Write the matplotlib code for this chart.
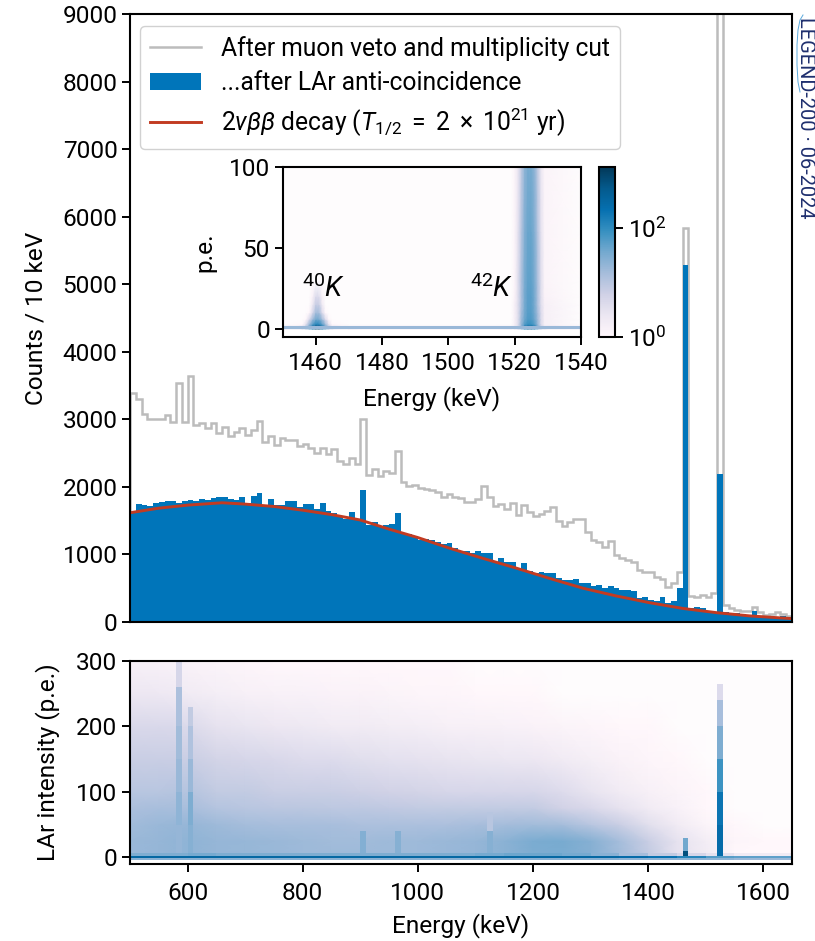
import matplotlib
matplotlib.use('Agg')
import matplotlib.pyplot as plt
from matplotlib.colors import LogNorm
from matplotlib.lines import Line2D
from matplotlib.patches import Patch
from matplotlib.ticker import LogFormatterMathtext, NullLocator
import numpy as np

plt.rcParams['font.family'] = ['Roboto', 'DejaVu Sans']
plt.rcParams['mathtext.fontset'] = 'custom'
plt.rcParams['mathtext.rm'] = 'Roboto'
plt.rcParams['mathtext.it'] = 'Roboto:italic'
plt.rcParams['mathtext.bf'] = 'Roboto:bold'
plt.rcParams['font.size'] = 17.6

# spectrum, 10 keV bins from 500 to 1650 keV
bin_edges = list(range(500, 1660, 10))
counts_muon = [3390, 3300, 3085, 3010, 3010, 3010, 3060, 2960, 3540, 2960, 3640, 2920, 2950, 2865, 2940,
               2805, 2890, 2750, 2815, 2865, 2765, 2840, 2980, 2667, 2750, 2620, 2730, 2690, 2690, 2600,
               2640, 2570, 2505, 2570, 2485, 2560, 2380, 2345, 2435, 2335, 3000, 2175, 2270, 2160, 2240,
               2210, 2525, 2075, 2010, 2035, 1990, 1967, 1950, 1930, 1845, 1900, 1855, 1830, 1780, 1780,
               1815, 2020, 1855, 1715, 1745, 1670, 1755, 1590, 1730, 1630, 1570, 1605, 1645, 1695, 1500,
               1425, 1485, 1525, 1525, 1325, 1215, 1190, 1115, 1200, 990, 950, 915, 890, 770, 735,
               745, 660, 630, 525, 570, 745, 5830, 385, 375, 400, 375, 435, 14000, 250, 200,
               178, 168, 168, 225, 150, 105, 118, 150, 118, 90]
counts_lar = [1620, 1745, 1730, 1715, 1765, 1770, 1795, 1795, 1755, 1795, 1800, 1795, 1815, 1805, 1835,
              1845, 1845, 1825, 1800, 1845, 1755, 1860, 1905, 1735, 1815, 1735, 1735, 1790, 1790, 1695,
              1745, 1750, 1680, 1765, 1645, 1617, 1570, 1530, 1630, 1530, 1950, 1435, 1485, 1420, 1435,
              1450, 1607, 1320, 1300, 1275, 1220, 1235, 1215, 1190, 1155, 1175, 1090, 1055, 1055, 1025,
              1055, 1025, 1025, 890, 940, 890, 890, 780, 870, 760, 730, 745, 730, 730, 645,
              620, 620, 635, 580, 570, 540, 545, 510, 530, 500, 480, 470, 460, 350, 375,
              325, 315, 365, 285, 315, 500, 5280, 200, 217, 200, 168, 150, 2190, 150, 118,
              128, 118, 105, 170, 90, 80, 70, 80, 90, 70]
curve_energy = [500, 550, 600, 660, 700, 750, 800, 850, 900, 950, 1000, 1056, 1114, 1172, 1229, 1287, 1345,
                1403, 1461, 1519, 1577, 1650]
curve_counts = [1617, 1685, 1730, 1765, 1745, 1710, 1655, 1590, 1510, 1375, 1250, 1090, 940, 795, 645, 500,
                385, 285, 200, 138, 90, 50]

# LAr intensity map, background read on a coarse grid
lar_energy = [500, 550, 600, 650, 700, 750, 800, 850, 900, 950, 1000, 1050, 1100, 1150, 1200, 1250, 1300,
              1350, 1400, 1450, 1500, 1550, 1600, 1650]
lar_pe = [5, 25, 50, 75, 100, 150, 200, 250, 300]
lar_map = [
    [18, 20, 22, 20, 19, 18, 17, 17, 17, 17, 17, 18, 20, 24, 30, 32, 26, 16, 8, 3, 2, 1, 1, 1],
    [18, 20, 22, 20, 19, 18, 17, 16, 16, 17, 17, 18, 20, 24, 32, 34, 26, 15, 7, 3, 1.8, 1.1, 1, 1],
    [16, 18, 20, 17, 15, 14, 14, 14, 13, 13, 13, 13, 14, 15, 16, 15, 10, 7, 3.5, 2, 1.2, 1, 0.9, 0.9],
    [13, 14, 14, 11, 10, 9.5, 9.5, 9, 9, 8.5, 8, 8, 8, 8, 8, 6, 4.5, 3, 2, 1.4, 1, 0.9, 0.9, 0.9],
    [10, 10, 11, 8, 8, 7, 7, 7, 6.5, 6, 5.5, 5, 5, 5, 5, 4, 2.8, 2, 1.5, 1.2, 1, 0.9, 0.9, 0.9],
    [7, 7, 7, 5.5, 5, 4.5, 4, 4, 3.5, 3.2, 3, 2.8, 2.6, 2.5, 2.4, 2, 1.6, 1.3, 1.1, 1, 0.9, 0.9, 0.9, 0.9],
    [4.5, 4.5, 4.2, 3, 2.7, 2.4, 2.2, 2, 2, 1.8, 1.7, 1.5, 1.5, 1.4, 1.3, 1.2, 1.1, 1, 1, 0.9, 0.9, 0.9, 0.9, 0.9],
    [2.4, 2.3, 2, 1.7, 1.5, 1.4, 1.4, 1.3, 1.3, 1.2, 1.1, 1.1, 1, 1, 1, 0.9, 0.9, 0.9, 0.9, 0.9, 0.9, 0.9, 0.9, 0.9],
    [1.5, 1.4, 1.3, 1.2, 1.1, 1, 1, 1, 1, 1, 1, 1, 0.9, 0.9, 0.9, 0.9, 0.9, 0.9, 0.9, 0.9, 0.9, 0.9, 0.9, 0.9],
]
# band at 0 p.e., per 50 keV step
band_pe = [-3.5, -1.5, 2.5, 7]
band_map = [
    [25, 25, 25, 25, 25, 25, 25, 25, 25, 25, 25, 25, 25, 25, 25, 25, 25, 22, 22, 22, 22, 18, 18],
    [300, 300, 300, 300, 300, 300, 300, 300, 300, 300, 300, 300, 300, 300, 300, 300, 300, 260, 200, 120, 55, 50, 50],
    [30, 30, 35, 30, 30, 30, 30, 30, 30, 30, 30, 30, 35, 40, 40, 35, 25, 15, 8, 5, 3, 2, 2],
]
# lines seen as narrow columns: energy bin edges, p.e. edges, counts
line_columns = [
    (580, 590, [7, 50, 100, 150, 200, 260, 300], [20, 22, 18, 16, 13, 5]),
    (600, 610, [7, 50, 100, 150, 200, 230], [26, 30, 18, 12, 8]),
    (900, 910, [7, 40], [28]),
    (960, 970, [7, 40], [26]),
    (1120, 1130, [7, 40, 70], [26, 10]),
    (1460, 1470, [2.5, 10, 30], [700, 38]),
    (1520, 1530, [2.5, 50, 100, 150, 200, 240, 265], [260, 190, 80, 30, 14, 4]),
]

# inset map around the potassium lines
inset_energy = [1450, 1456, 1457, 1458, 1459, 1460, 1461, 1462, 1463, 1464, 1465, 1470, 1519, 1520, 1521, 1522,
                1523, 1524, 1525, 1526, 1527, 1528, 1529, 1540]
inset_pe = [0, 3, 6, 10, 15, 20, 30, 60, 100]
inset_map = [
    [2, 4, 10, 40, 250, 800, 800, 250, 40, 10, 4, 2, 2, 3, 5, 20, 180, 400, 400, 220, 30, 8, 3, 2],
    [0.9, 1, 3, 15, 50, 110, 110, 50, 15, 3, 1, 0.9, 0.9, 1.5, 3.5, 18, 55, 85, 85, 55, 18, 4, 1.5, 0.9],
    [0.9, 0.9, 1, 4, 15, 35, 35, 15, 4, 1, 0.9, 0.9, 0.9, 1.5, 3.5, 16, 40, 60, 60, 40, 16, 4, 1.5, 0.9],
    [0.9, 0.9, 0.9, 1, 4, 15, 15, 4, 1, 0.9, 0.9, 0.9, 0.9, 1.5, 3.5, 14, 36, 55, 55, 36, 14, 4, 1.5, 0.9],
    [0.9, 0.9, 0.9, 0.9, 2, 7, 7, 2, 0.9, 0.9, 0.9, 0.9, 0.9, 1.5, 3.5, 12, 34, 52, 52, 34, 12, 3.5, 1.5, 0.9],
    [0.9, 0.9, 0.9, 0.9, 1.3, 4, 4, 1.3, 0.9, 0.9, 0.9, 0.9, 0.9, 1.3, 3.5, 12, 34, 52, 52, 34, 12, 3.5, 1.3, 0.9],
    [0.9, 0.9, 0.9, 0.9, 0.9, 0.9, 0.9, 0.9, 0.9, 0.9, 0.9, 0.9, 0.9, 1.2, 3.5, 12, 32, 48, 48, 32, 12, 3.5, 1.2, 0.9],
    [0.9, 0.9, 0.9, 0.9, 0.9, 0.9, 0.9, 0.9, 0.9, 0.9, 0.9, 0.9, 0.9, 1.2, 3, 10, 28, 42, 42, 28, 10, 3, 1.2, 0.9],
    [0.9, 0.9, 0.9, 0.9, 0.9, 0.9, 0.9, 0.9, 0.9, 0.9, 0.9, 0.9, 0.9, 1.2, 2.5, 8, 22, 34, 34, 22, 8, 2.5, 1.2, 0.9],
]
inset_band_pe = [-0.2, 1.8]
inset_band = [[18]]

color_blue = '#0075ba'
color_gray = '#bcbcbc'
color_red = '#c23b22'
color_navy = '#1f2f6e'
W, H = 815, 941


def box(left, top, right, bottom):
    # pixel box to figure fractions
    return [left / W, 1 - bottom / H, (right - left) / W, (bottom - top) / H]


cmap = plt.get_cmap('PuBu').copy()
cmap.set_under('#fefcfd')
norm = LogNorm(vmin=1, vmax=1300)

fig = plt.figure(figsize=(W / 100, H / 100), dpi=100)
ax = fig.add_axes(box(130, 14, 792, 622))
ax_map = fig.add_axes(box(130, 661, 792, 864))
ax_in = fig.add_axes(box(282.5, 167, 581, 337))
cax = fig.add_axes(box(599, 167, 615, 337))

# main spectrum
ax.stairs(counts_muon, bin_edges, color=color_gray, linewidth=1.8)
ax.stairs(counts_lar, bin_edges, color=color_blue, fill=True, linewidth=0)
ax.plot(curve_energy, curve_counts, color=color_red, linewidth=2.1)
ax.set_xlim(500, 1650)
ax.set_ylim(0, 9000)
ax.set_xticks([])
ax.set_yticks(range(0, 10000, 1000))
ax.set_ylabel('Counts / 10 keV', labelpad=11)

handles = [
    Line2D([], [], color=color_gray, linewidth=1.8),
    Patch(facecolor=color_blue, edgecolor='none'),
    Line2D([], [], color=color_red, linewidth=2.1),
]
labels = ['After muon veto and multiplicity cut', '...after LAr anti-coincidence',
          r'$2\nu\beta\beta$ decay ($T_{1/2}\;=\;2\;\times\;10^{21}$ yr)']
ax.legend(handles, labels, loc='upper left', bbox_to_anchor=(0.0, 0.996), borderaxespad=0.4, fontsize=17.7,
          handlelength=2.1, labelspacing=0.42, handletextpad=0.8, framealpha=0.9, edgecolor='#cccccc')

# LAr map
ax_map.pcolormesh(lar_energy, lar_pe, lar_map, shading='gouraud', cmap=cmap, norm=norm)
ax_map.pcolormesh(lar_energy, band_pe, band_map, shading='flat', cmap=cmap, norm=norm)
for e_low, e_high, pe_edges, values in line_columns:
    column = np.array(values, dtype=float).reshape(-1, 1)
    ax_map.pcolormesh([e_low, e_high], pe_edges, column, shading='flat', cmap=cmap, norm=norm)
ax_map.set_xlim(500, 1650)
ax_map.set_ylim(-10, 300)
ax_map.set_xticks(range(600, 1700, 200))
ax_map.set_yticks([0, 100, 200, 300])
ax_map.set_xlabel('Energy (keV)', labelpad=6)
ax_map.set_ylabel('LAr intensity (p.e.)', labelpad=12)

# inset
mesh = ax_in.pcolormesh(inset_energy, inset_pe, inset_map, shading='gouraud', cmap=cmap, norm=norm)
ax_in.pcolormesh([1450, 1540], inset_band_pe, inset_band, shading='flat', cmap=cmap, norm=norm)
ax_in.set_xlim(1450, 1540)
ax_in.set_ylim(-5, 100)
ax_in.set_xticks(range(1460, 1560, 20))
ax_in.set_yticks([0, 50, 100])
ax_in.set_xlabel('Energy (keV)', labelpad=8)
ax_in.set_ylabel('p.e.', labelpad=9)
ax_in.text(1462.3, 16, r'$^{40}K$', ha='center', va='bottom', fontsize=20)
ax_in.text(1513.2, 16, r'$^{42}K$', ha='center', va='bottom', fontsize=20)

cbar = fig.colorbar(mesh, cax=cax)
cbar.set_ticks([1, 100])
cbar.ax.yaxis.set_major_formatter(LogFormatterMathtext())
cbar.ax.yaxis.set_minor_locator(NullLocator())

for a in [ax, ax_map, ax_in, cax]:
    a.tick_params(length=5.5, width=1.4)
    for s in a.spines.values():
        s.set_linewidth(1.5)
cbar.outline.set_linewidth(1.5)
ax_map.tick_params(axis='x', pad=7.5)
ax_in.tick_params(axis='x', pad=5.5)

# watermark
fig.text(806 / W, 1 - 118 / H, 'LEGEND-200 · 06-2024', rotation=270, ha='center', va='center', fontsize=14.4,
         color=color_navy)
logo_x = [803, 800, 798, 797, 797, 798, 800]
logo_y = [15, 20, 30, 45, 65, 82, 92]
fig.add_artist(Line2D([v / W for v in logo_x], [1 - v / H for v in logo_y], color='#5aa9dc', linewidth=0.7))

fig.savefig('out.png', dpi=100)
